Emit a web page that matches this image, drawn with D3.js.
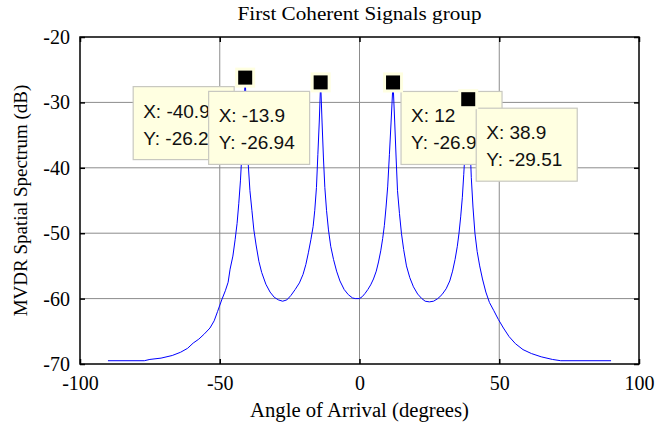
<!DOCTYPE html>
<html>
<head>
<meta charset="utf-8">
<script src="https://cdn.jsdelivr.net/npm/d3@7"></script>
<style>
  html, body { margin: 0; padding: 0; background: #fff; }
  svg { display: block; }
</style>
</head>
<body>
<svg id="chart" width="656" height="430"></svg>
<script>
// ---- data ----
const angles = [-90, -77, -75, -71, -67, -64, -61.5, -59.5, -57.5, -55.5, -53.5, -52, -50.8, -49.3, -48, -47, -46.3, -45.3, -44.5, -43.8, -43.2, -42.6, -42.1, -41.5, -40.9,
  -40.3, -39.8, -39.2, -38.5, -37.8, -37, -36, -35, -33.5, -32, -30.5, -29, -27.5, -26, -24.5, -23, -21.5, -20.2, -19.2, -18.3, -17.4, -16.6, -16, -15.4, -14.9, -14.4, -13.9,
  -13.4, -12.9, -12.4, -11.8, -11.1, -10.3, -9.3, -8.2, -7, -5.5, -4, -2.5, -1.5, 0, 1, 2, 3, 4, 5, 6, 6.8, 7.6, 8.3, 8.9, 9.5, 10.1, 10.7, 11.3, 12,
  12.6, 13.1, 13.6, 14.3, 15, 15.8, 16.8, 18, 19.3, 20.8, 22.3, 23.5, 25, 26.5, 28, 29.5, 31, 32.3, 33.3, 34.2, 35, 35.6, 36.2, 36.8, 37.3, 37.9, 38.4, 38.9,
  39.5, 40, 40.6, 41.3, 42.1, 43, 44, 45.2, 46.5, 48, 49.7, 51.5, 53.5, 55.8, 58.5, 61.5, 65, 69, 72, 90];
const spectrum = [-69.5, -69.5, -69.3, -69.1, -68.7, -68.2, -67.6, -66.8, -66.2, -65.4, -64.5, -63.4, -62, -60.2, -58.8, -57.5, -55.5, -53.5, -51, -48.5, -45.5, -42, -38, -33, -26.21,
  -33.5, -39.5, -43.5, -46.5, -49.5, -51.8, -54.3, -56, -57.8, -59, -59.8, -60.2, -60.4, -60.2, -59.5, -58.6, -57.6, -56.3, -54.8, -53, -51, -49, -46.5, -43, -38, -33, -26.94,
  -33, -38.5, -43, -46.5, -49.5, -52, -54, -55.8, -57.3, -58.6, -59.4, -59.9, -60, -60, -59.7, -59.2, -58.6, -57.9, -57, -55.8, -54.4, -52.7, -50.8, -48.8, -46, -42.8, -38, -33, -26.95,
  -33, -38.5, -43.5, -47, -50, -52.5, -55, -56.8, -58.2, -59.3, -60, -60.4, -60.5, -60.4, -60, -59.4, -58.5, -57.3, -55.8, -54, -52, -50, -47.5, -44.5, -41, -36.5, -33, -29.51,
  -36, -41.5, -46, -50, -52.8, -55, -57, -59, -60.6, -61.8, -63.2, -64.5, -65.8, -66.9, -67.8, -68.4, -68.9, -69.3, -69.5, -69.5];

const xTicks = [-100, -50, 0, 50, 100];
const yTicks = [-70, -60, -50, -40, -30, -20];

const tipX = [-40.9, -13.9, 12, 38.9];
const tipY = [-26.21, -26.94, -26.95, -29.51];
const tipXText = ["X: -40.9", "X: -13.9", "X: 12", "X: 38.9"];
const tipYText = ["Y: -26.21", "Y: -26.94", "Y: -26.95", "Y: -29.51"];
const tipSide = ["left", "left", "right", "right"];

const titleText = "First Coherent Signals group";
const xLabelText = "Angle of Arrival (degrees)";
const yLabelText = "MVDR Spatial Spectrum (dB)";

// ---- layout ----
const L = 80, R = 639, T = 37, B = 364;
const svg = d3.select("#chart");
const x = d3.scaleLinear().domain([-100, 100]).range([L, R]);
const y = d3.scaleLinear().domain([-70, -20]).range([B, T]);
const serif = "'Liberation Serif', 'Times New Roman', serif";
const sans = "'Liberation Sans', Arial, sans-serif";
const fmt = d => String(d);

// grid
const grid = svg.append("g").attr("stroke", "#8c8c8c").attr("stroke-width", 1);
xTicks.slice(1, -1).forEach(t => {
  grid.append("line").attr("x1", x(t)).attr("x2", x(t)).attr("y1", T).attr("y2", B);
});
yTicks.slice(1, -1).forEach(t => {
  grid.append("line").attr("x1", L).attr("x2", R).attr("y1", y(t)).attr("y2", y(t));
});

// axes via d3 axis generators, ticks pointing inward
const tickLen = 5;
function styleAxis(g) {
  g.select(".domain").remove();
  g.selectAll(".tick line").attr("stroke", "#000").attr("stroke-width", 1.5);
}
svg.append("g").attr("transform", `translate(0,${B})`)
  .call(d3.axisBottom(x).tickValues(xTicks).tickSize(-tickLen).tickPadding(12).tickFormat(fmt))
  .call(styleAxis)
  .call(g => g.selectAll("text").attr("font-family", serif).attr("font-size", 20).attr("fill", "#000"));
svg.append("g").attr("transform", `translate(0,${T})`)
  .call(d3.axisTop(x).tickValues(xTicks).tickSize(-tickLen).tickFormat(""))
  .call(styleAxis);
svg.append("g").attr("transform", `translate(${L},0)`)
  .call(d3.axisLeft(y).tickValues(yTicks).tickSize(-tickLen).tickPadding(10).tickFormat(fmt))
  .call(styleAxis)
  .call(g => g.selectAll("text").attr("font-family", serif).attr("font-size", 20).attr("fill", "#000"));
svg.append("g").attr("transform", `translate(${R},0)`)
  .call(d3.axisRight(y).tickValues(yTicks).tickSize(-tickLen).tickFormat(""))
  .call(styleAxis);

// curve
const pts = angles.map((a, i) => [a, spectrum[i]]);
svg.append("path")
  .datum(pts)
  .attr("fill", "none")
  .attr("stroke", "#0000ff")
  .attr("stroke-width", 1)
  .attr("d", d3.line().x(d => x(d[0])).y(d => y(d[1])));

// box
svg.append("rect").attr("x", L).attr("y", T).attr("width", R - L).attr("height", B - T)
  .attr("fill", "none").attr("stroke", "#000").attr("stroke-width", 1.5);

// data tips
const boxW = 101, boxH = 73;
tipX.forEach((tx, i) => {
  const px = x(tx), py = y(tipY[i]);
  const bx = tipSide[i] === "left" ? px - 112 : px + 8;
  const by = py + 9;
  const g = svg.append("g");
  g.append("rect").attr("x", bx).attr("y", by).attr("width", boxW).attr("height", boxH)
    .attr("fill", "#ffffe1").attr("stroke", "#c8c8c0").attr("stroke-width", 1.2);
  g.append("text").attr("x", bx + 10).attr("y", by + 31).text(tipXText[i])
    .attr("font-family", sans).attr("font-size", 19).attr("fill", "#111");
  g.append("text").attr("x", bx + 10).attr("y", by + 58).text(tipYText[i])
    .attr("font-family", sans).attr("font-size", 19).attr("fill", "#111");
  g.append("rect").attr("x", px - 10).attr("y", py - 10).attr("width", 20).attr("height", 20)
    .attr("fill", "#ffffe1");
  g.append("rect").attr("x", px - 7).attr("y", py - 7).attr("width", 14).attr("height", 14)
    .attr("fill", "#000");
});

// labels
svg.append("text").attr("x", (L + R) / 2).attr("y", 20).attr("text-anchor", "middle")
  .attr("font-family", serif).attr("font-size", 19)
  .attr("textLength", 244).attr("lengthAdjust", "spacingAndGlyphs").text(titleText);
svg.append("text").attr("x", (L + R) / 2).attr("y", 417).attr("text-anchor", "middle")
  .attr("font-family", serif).attr("font-size", 20)
  .attr("textLength", 219).attr("lengthAdjust", "spacingAndGlyphs").text(xLabelText);
svg.append("text").attr("transform", `translate(27,${(T + B) / 2}) rotate(-90)`).attr("text-anchor", "middle")
  .attr("font-family", serif).attr("font-size", 19).text(yLabelText);
</script>
</body>
</html>
